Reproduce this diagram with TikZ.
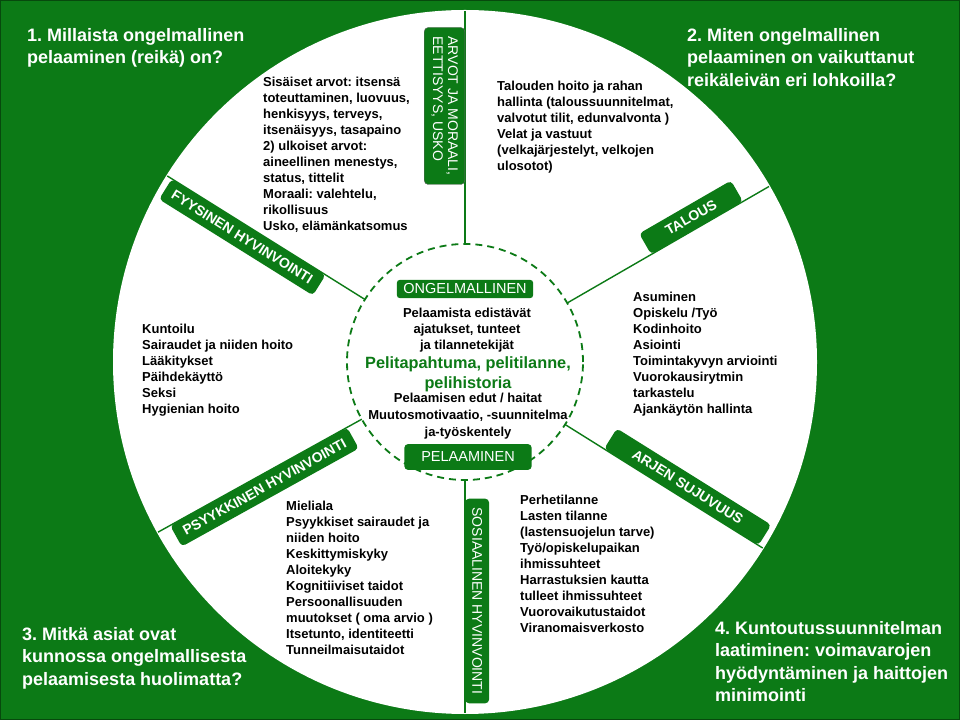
\documentclass[tikz,border=0pt]{standalone}
\usepackage{fontspec}
\setmainfont{Liberation Sans}
\usetikzlibrary{calc,positioning}
\definecolor{leafgreen}{RGB}{12,122,22}
\frenchspacing
\begin{document}
\begin{tikzpicture}[x=1pt,y=1pt,
  every node/.style={inner sep=0pt},
  tab/.style={fill=leafgreen, rounded corners=4pt, text=white,
    font=\fontsize{14}{15}\selectfont, inner xsep=9pt, inner ysep=7pt},
  boldtab/.style={tab, font=\bfseries\fontsize{14}{15}\selectfont},
  facts/.style={anchor=north west, align=left,
    font=\bfseries\fontsize{13}{16}\selectfont},
  question/.style={anchor=north west, align=left, text=white,
    font=\bfseries\fontsize{18}{22.5}\selectfont},
  spoke/.style={leafgreen, line width=1.4pt}]
  \fill[leafgreen] (0,0) rectangle (960,720);
  \draw[leafgreen!60!black, line width=1pt] (0.5,0.5) rectangle (959.5,719.5);
  \useasboundingbox (0,0) rectangle (960,720);
  \coordinate (O) at (465,358);
  \fill[white] (O) circle (352);
  \draw[leafgreen, line width=1.8pt, dash pattern=on 7pt off 5pt] (O) circle (118);
  % spokes of the wheel
  \foreach \a/\n in {90/top,30/eco,-32/daily,270/soc,209/psy,148/phys} {
    \coordinate (\n-in) at ($(O)+(\a:118)$);
    \coordinate (\n-out) at ($(O)+(\a:351)$);
    \draw[spoke] (\n-in) -- (\n-out);
  }
  % tabs on the spokes
  \node[tab, rotate=-90, anchor=north, align=left, draw=black!60]
    (values) at ($(O)+(90:256)$) {ARVOT JA MORAALI,\\EETTISYYS, USKO};
  \node[boldtab, rotate=30, anchor=south, minimum width=106pt] (economy)
    at ($(O)+(30:268)$) {TALOUS};
  \node[boldtab, rotate=-32, anchor=south, minimum width=182pt] (daily)
    at ($(O)+(-32:255)$) {ARJEN SUJUVUUS};
  \node[tab, rotate=-90, anchor=south] (social) at ($(O)+(270:239)$) {SOSIAALINEN HYVINVOINTI};
  \node[boldtab, rotate=29, anchor=north] (psyche) at ($(O)+(209:236)$) {PSYYKKINEN HYVINVOINTI};
  \node[boldtab, rotate=-32, anchor=north] (physical) at ($(O)+(148:255)$) {FYYSINEN HYVINVOINTI};
  % centre of the wheel
  \node[tab, font=\fontsize{14.5}{15}\selectfont, inner xsep=6.5pt, inner ysep=4pt,
    rounded corners=3pt] (problem) at (465,431) {ONGELMALLINEN};
  \node[tab, font=\fontsize{14.5}{15}\selectfont, inner xsep=17pt, inner ysep=8pt]
    (gaming) at (468,263) {PELAAMINEN};
  \node[anchor=north, align=center, font=\bfseries\fontsize{13}{16}\selectfont]
    (thoughts) at (467,412) {Pelaamista edistävät\\ajatukset, tunteet\\ja tilannetekijät};
  \node[anchor=north, align=center, text=leafgreen,
    font=\bfseries\fontsize{16.3}{20}\selectfont]
    (events) at (468,364) {Pelitapahtuma, pelitilanne,\\pelihistoria};
  \node[anchor=north, align=center, font=\bfseries\fontsize{13}{17}\selectfont]
    (motive) at (468,327) {Pelaamisen edut / haitat\\Muutosmotivaatio, -suunnitelma\\ja-työskentely};
  % sector texts
  \node[facts] (valuetext) at (263,643) {Sisäiset arvot: itsensä\\toteuttaminen, luovuus,\\henkisyys, terveys,\\itsenäisyys, tasapaino\\2) ulkoiset arvot:\\aineellinen menestys,\\status, tittelit\\Moraali: valehtelu,\\rikollisuus\\Usko, elämänkatsomus};
  \node[facts] (ecotext) at (497,639) {Talouden hoito ja rahan\\hallinta (taloussuunnitelmat,\\valvotut tilit, edunvalvonta )\\Velat ja vastuut\\(velkajärjestelyt, velkojen\\ulosotot)};
  \node[facts] (bodytext) at (142,396) {Kuntoilu\\Sairaudet ja niiden hoito\\Lääkitykset\\Päihdekäyttö\\Seksi\\Hygienian hoito};
  \node[facts] (dailytext) at (633,428) {Asuminen\\Opiskelu /Työ\\Kodinhoito\\Asiointi\\Toimintakyvyn arviointi\\Vuorokausirytmin\\tarkastelu\\Ajankäytön hallinta};
  \node[facts] (mindtext) at (286,219) {Mieliala\\Psyykkiset sairaudet ja\\niiden hoito\\Keskittymiskyky\\Aloitekyky\\Kognitiiviset taidot\\Persoonallisuuden\\muutokset ( oma arvio )\\Itsetunto, identiteetti\\Tunneilmaisutaidot};
  \node[facts] (socialtext) at (520,225) {Perhetilanne\\Lasten tilanne\\(lastensuojelun tarve)\\Työ/opiskelupaikan\\ihmissuhteet\\Harrastuksien kautta\\tulleet ihmissuhteet\\Vuorovaikutustaidot\\Viranomaisverkosto};
  % questions in the corners
  \node[question] (q1) at (27,692) {1. Millaista ongelmallinen\\pelaaminen (reikä) on?};
  \node[question] (q2) at (687,692) {2. Miten ongelmallinen\\pelaaminen on vaikuttanut\\reikäleivän eri lohkoilla?};
  \node[question] (q3) at (22,93) {3. Mitkä asiat ovat\\kunnossa ongelmallisesta\\pelaamisesta huolimatta?};
  \node[question] (q4) at (715,99) {4. Kuntoutussuunnitelman\\laatiminen: voimavarojen\\hyödyntäminen ja haittojen\\minimointi};
\end{tikzpicture}
\end{document}
